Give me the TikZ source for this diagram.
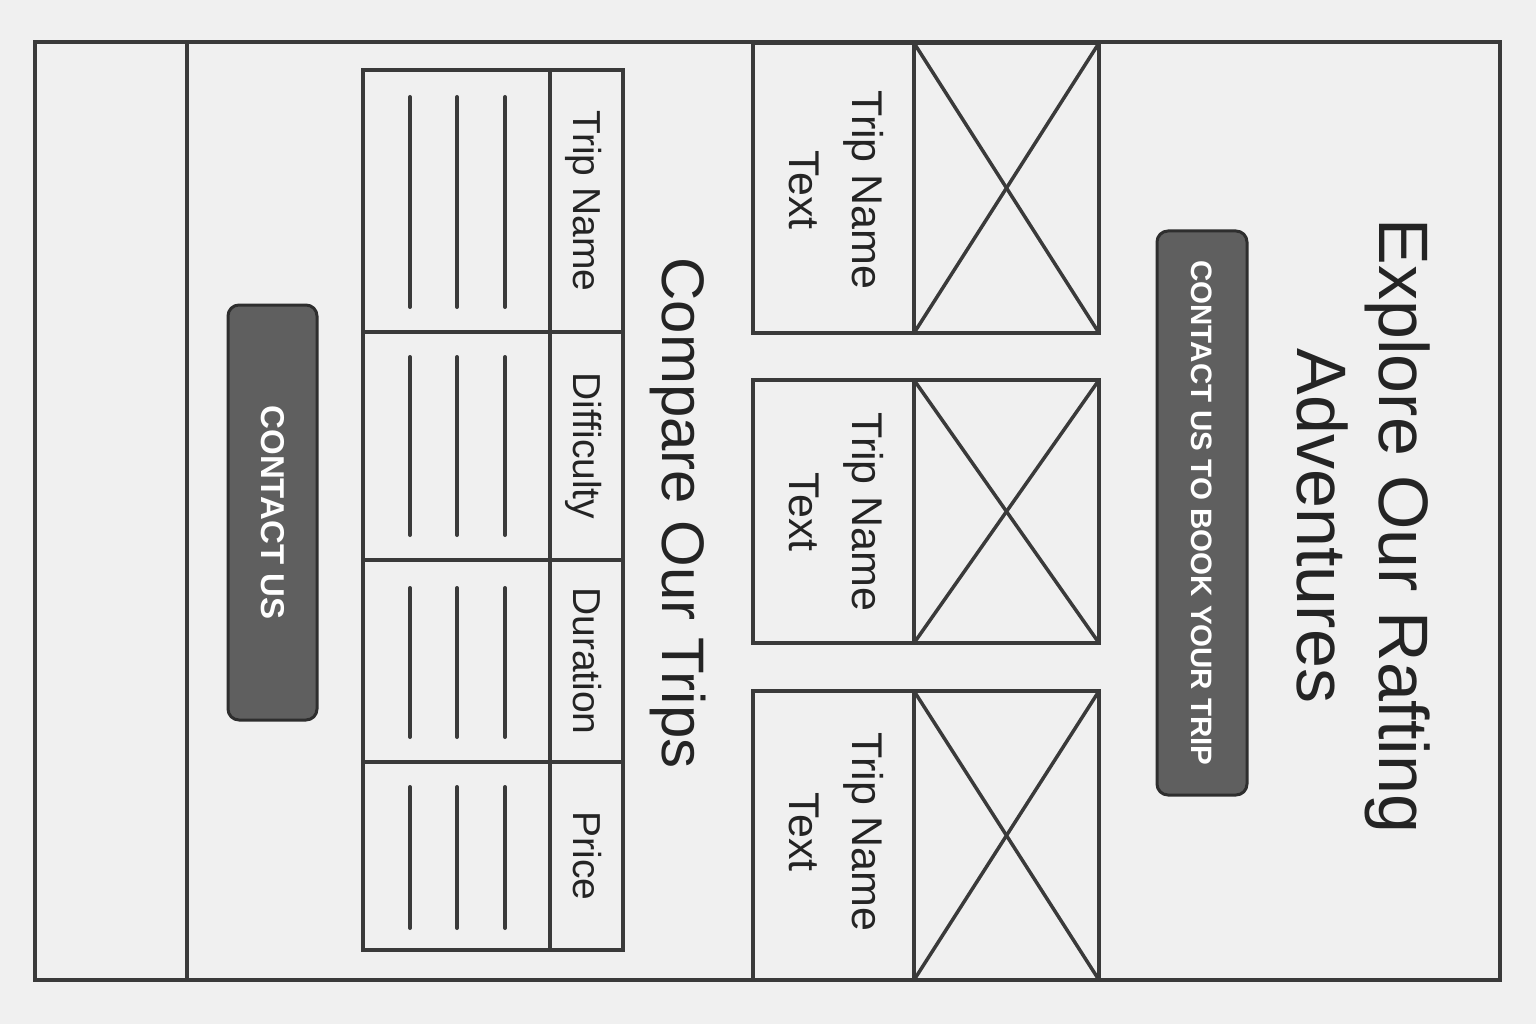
\documentclass[tikz,border=0pt]{standalone}
\usepackage{fontspec}
\setmainfont{Liberation Sans}
\definecolor{ink}{HTML}{3A3A3A}
\definecolor{letter}{HTML}{242424}
\definecolor{paper}{HTML}{F0F0F0}
\definecolor{btnfill}{HTML}{5F5F5F}
\definecolor{btnedge}{HTML}{2E2E2E}

\begin{document}
\begin{tikzpicture}[x=1pt, y=-1pt,
  frame/.style={draw=ink, line width=3.5pt},
  bar/.style={draw=ink, line width=4pt, line cap=round},
  vlabel/.style={rotate=-90, text=letter, inner sep=0pt},
  btn/.style={rotate=-90, fill=btnfill, draw=btnedge, line width=3pt, rounded corners=11pt, text=white, font=\bfseries}]
\fill[paper] (0,0) rectangle (1536,1024);
\useasboundingbox (0,0) rectangle (1536,1024);

\draw[frame] (35,42) rectangle (1500,980);
\draw[frame] (187,42) -- (187,980);

\node[btn, minimum width=415pt, minimum height=89pt, font=\bfseries\fontsize{33}{36}\selectfont] (contact) at (272.5,512.5) {CONTACT US};

\draw[frame] (363,70) rectangle (623,950);
\draw[frame] (550,70) -- (550,950);
\draw[frame] (363,332) -- (623,332);
\draw[frame] (363,560) -- (623,560);
\draw[frame] (363,762) -- (623,762);

\node[vlabel, anchor=base, font=\fontsize{39}{44}\selectfont] (colname) at (573,201) {Trip Name};
\node[vlabel, anchor=base, font=\fontsize{39}{44}\selectfont] (coldiff) at (573,446) {Difficulty};
\node[vlabel, anchor=base, font=\fontsize{39}{44}\selectfont] (coldur) at (573,661) {Duration};
\node[vlabel, anchor=base, font=\fontsize{39}{44}\selectfont] (colprice) at (573,856) {Price};

\draw[bar] (410,97) -- (410,307);
\draw[bar] (457,97) -- (457,307);
\draw[bar] (505,97) -- (505,307);
\draw[bar] (410,357) -- (410,535);
\draw[bar] (457,357) -- (457,535);
\draw[bar] (505,357) -- (505,535);
\draw[bar] (410,588) -- (410,737);
\draw[bar] (457,588) -- (457,737);
\draw[bar] (505,588) -- (505,737);
\draw[bar] (410,787) -- (410,928);
\draw[bar] (457,787) -- (457,928);
\draw[bar] (505,787) -- (505,928);

\node[vlabel, anchor=base, font=\fontsize{60}{66}\selectfont] (compare) at (662,513) {Compare Our Trips};

\draw[frame] (753,43) rectangle (1099,333);
\draw[frame] (914,43) -- (914,333);
\draw[frame] (914,43) -- (1099,333);
\draw[frame] (914,333) -- (1099,43);
\node[vlabel, align=center, font=\fontsize{43}{63}\selectfont] (trip1) at (836,190) {Trip Name\\Text};

\draw[frame] (753,380) rectangle (1099,643);
\draw[frame] (914,380) -- (914,643);
\draw[frame] (914,380) -- (1099,643);
\draw[frame] (914,643) -- (1099,380);
\node[vlabel, align=center, font=\fontsize{43}{63}\selectfont] (trip2) at (836,512) {Trip Name\\Text};

\draw[frame] (753,691) rectangle (1099,980);
\draw[frame] (914,691) -- (914,980);
\draw[frame] (914,691) -- (1099,980);
\draw[frame] (914,980) -- (1099,691);
\node[vlabel, align=center, font=\fontsize{43}{63}\selectfont] (trip3) at (836,832) {Trip Name\\Text};

\node[btn, minimum width=564pt, minimum height=90pt, font=\bfseries\fontsize{29.5}{32}\selectfont] (book) at (1202,513) {CONTACT US TO BOOK YOUR TRIP};

\node[vlabel, align=center, font=\fontsize{70}{82}\selectfont] (title) at (1364,526) {Explore Our Rafting\\Adventures};

\end{tikzpicture}
\end{document}
